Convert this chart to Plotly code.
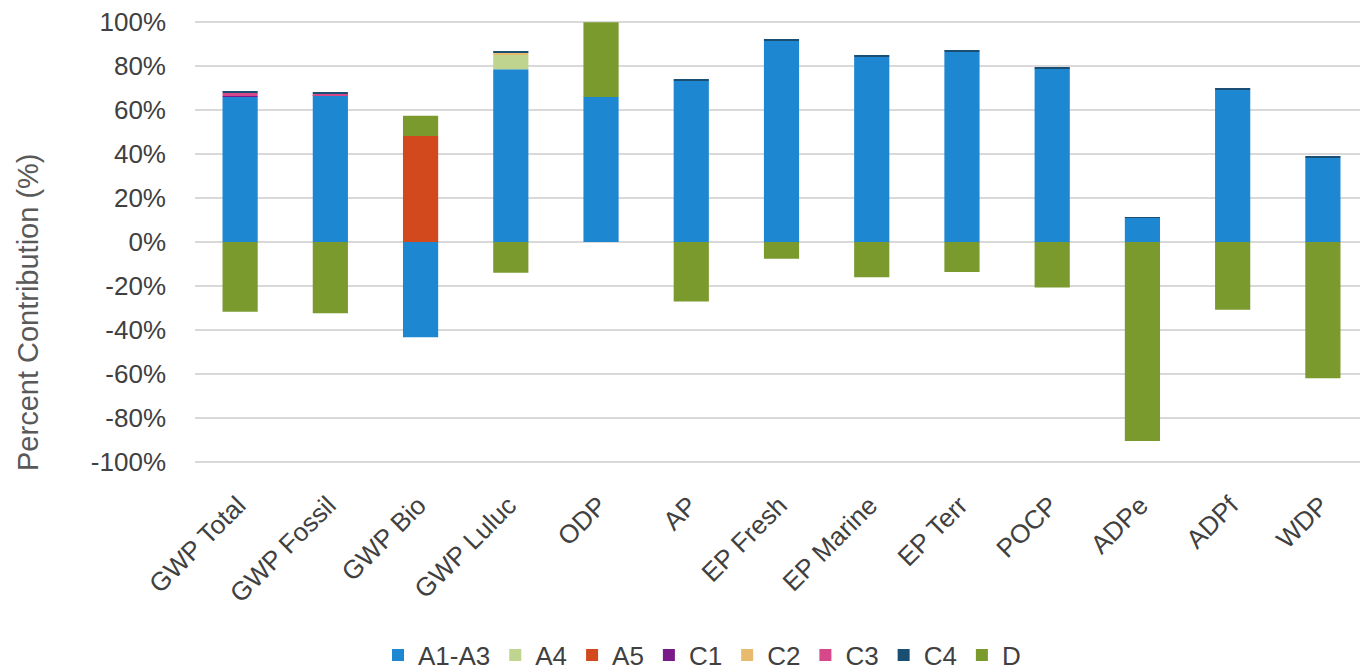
import plotly.graph_objects as go

categories = ["GWP Total", "GWP Fossil", "GWP Bio", "GWP Luluc", "ODP", "AP",
              "EP Fresh", "EP Marine", "EP Terr", "POCP", "ADPe", "ADPf", "WDP"]

a1_a3 = [66.0, 66.5, -43.3, 78.6, 66.0, 73.5, 91.5, 84.3, 86.5, 79.0, 11.0, 69.3, 38.5]
a4    = [0, 0, 0, 6.5, 0, 0, 0, 0, 0, 0, 0, 0, 0]
a5    = [0, 0, 48.2, 0, 0, 0, 0, 0, 0, 0, 0, 0, 0]
c1    = [0.4, 0.3, 0, 0, 0, 0, 0, 0, 0, 0, 0, 0, 0]
c2    = [0, 0, 0, 0.9, 0, 0, 0, 0, 0, 0, 0, 0, 0]
c3    = [1.4, 0.8, 0, 0, 0, 0, 0, 0, 0, 0, 0, 0, 0]
c4    = [0.6, 0.6, 0, 0.5, 0, 0.5, 0.6, 0.6, 0.6, 0.5, 0.3, 0.4, 0.4]
d     = [-31.7, -32.4, 9.2, -14.0, 34.0, -27.1, -7.6, -16.0, -13.6, -20.7, -90.5, -30.8, -62.0]

series_names = ["A1-A3", "A4", "A5", "C1", "C2", "C3", "C4", "D"]
series_values = [a1_a3, a4, a5, c1, c2, c3, c4, d]
series_colors = ["#1E87D2", "#BFD48E", "#D3491E", "#7A1A88",
                 "#E8BA6E", "#D5488A", "#1A4F73", "#7A9A2E"]

y_ticks = [-100, -80, -60, -40, -20, 0, 20, 40, 60, 80, 100]
y_tick_labels = [f"{v}%" for v in y_ticks]

fig = go.Figure()
for name, vals, col in zip(series_names, series_values, series_colors):
    fig.add_trace(go.Bar(
        x=categories, y=vals, name=name,
        marker=dict(color=col, line=dict(width=0)),
    ))

font_family = "Liberation Sans, Arial, sans-serif"
W, H = 1368, 669
OFF = 8  # page body margin offset
L, R, T, B = 195 - OFF, OFF, 20 - OFF, 669 - (464 - OFF)
pw, ph = W - L - R, H - T - B

fig.update_layout(
    width=W, height=H,
    barmode="relative",
    bargap=0.61,
    plot_bgcolor="white",
    paper_bgcolor="white",
    margin=dict(l=L, r=R, t=T, b=B, pad=0, autoexpand=False),
    font=dict(family=font_family, size=26, color="#404040"),
    showlegend=True,
    legend=dict(
        orientation="h",
        x=(702 - OFF - L) / pw, xanchor="center",
        yref="container",
        y=(H - (655 - OFF)) / H, yanchor="middle",
        font=dict(size=26, color="#404040"),
        traceorder="normal",
        itemwidth=30,
        bgcolor="rgba(0,0,0,0)",
    ),
    xaxis=dict(
        tickangle=-45,
        tickfont=dict(size=26, color="#404040"),
        showgrid=False,
        showline=False,
        ticks="",
        ticklabelstandoff=20,
        ticklabelshift=-2,
        ticklabeloverflow="allow",
        automargin=False,
    ),
    yaxis=dict(
        range=[-101, 101],
        tickvals=y_ticks,
        ticktext=y_tick_labels,
        tickfont=dict(size=26, color="#404040"),
        showgrid=True,
        gridcolor="#D9D9D9",
        gridwidth=1.5,
        zeroline=True,
        zerolinecolor="#D9D9D9",
        zerolinewidth=1.5,
        showline=False,
        ticks="",
        ticklabelstandoff=28,
        ticklabeloverflow="allow",
        automargin=False,
    ),
    annotations=[dict(
        text="Percent Contribution (%)",
        xref="paper", yref="paper",
        x=(28 - OFF - L) / pw, y=(H - B - (312 - OFF)) / ph,
        xanchor="center", yanchor="middle",
        textangle=-90, showarrow=False,
        font=dict(size=29, color="#595959", family=font_family),
    )],
)

fig.write_html("out.html")
